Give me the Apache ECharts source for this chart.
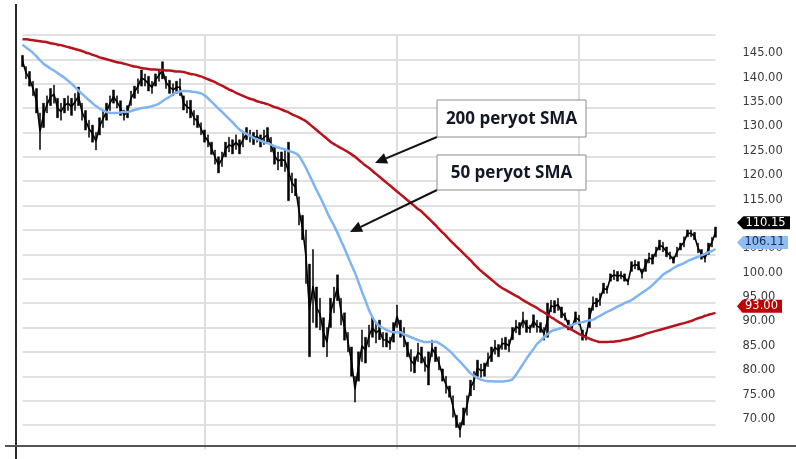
<!DOCTYPE html>
<html>
<head>
<meta charset="utf-8">
<script src="https://cdn.jsdelivr.net/npm/echarts@6/dist/echarts.min.js"></script>
<style>
html,body{margin:0;padding:0;background:#fff;}
#chart{width:796px;height:459px;}
</style>
</head>
<body>
<div id="chart"></div>
<script>
// ---- data ----
const priceHigh = [145.8,143.5,142.5,140.5,139,134,136,137.5,139,139.7,
137,136,137,137.5,137,138,139.3,136,134.5,132.5,
131.5,130,133,134.5,136,137.5,138.7,137.5,136.5,134.6,
135.5,138.5,139.5,141,142.8,142,141.5,140.5,142,143,
144.5,141.5,140.7,140,140.5,141,137.5,136.5,136.6,134.5,
133.5,132,130.5,129.5,128,126.4,125,126,128,129,
128.5,129.5,128.5,130,131,130.5,130,130.5,129.5,130.5,
131,129,127,126,126,126.4,128,121.7,120.5,116.8,
113,110,103,106,98.3,96,92,90,96,98.3,
100.8,96,93,89,86,80,85,89.5,88,90.5,
92,91,91.5,89,88.9,88,91,94.6,91.5,90,
87,85.5,84,86.8,86,84,85,87.4,86,84,
81.5,80,78,76,72,70.5,73.5,76,79.2,81,
83.3,82.5,82.7,84.8,86,87.4,86.5,87.8,88,87.5,
90,91.5,91,93.2,91.5,90.5,92.6,91.5,91,90,
95,95.6,95.5,96,94.2,93,91.5,90.5,93.2,92.5,
89.5,89,94,96.3,96,97,99.1,98.5,101,101.8,
101.5,101.5,101,100,103.5,103.8,103.5,102,104,105.3,
105,106.5,107.9,107.5,106.5,105.5,104.5,106.5,107.3,108.6,
110,110,109.5,107.3,106,105,107.3,108.5,110.6];

const priceLow = [143.5,141,139.5,137.5,134,126.5,131,134,135.5,136,
133,132.5,134,134.5,133.5,134.5,135.5,132.5,130.5,129,
128,126.4,129.5,131,132.5,134.5,136,135,133.5,132.5,
133,135.5,137,138,139.5,139.5,138.5,138,139.5,140.5,
141,139,138,137.5,138,137.5,134.6,134,133,131.5,
131,129.5,128,127,125.5,123.5,121.7,123,125,126,
125.6,126.5,125.6,127,128.5,128,127.5,128,127,127.5,
128,126,123.5,122.3,123,122,116,117.6,117,111,
108,99,84,91,90,89.5,86,84,90,93,
95.5,90.5,87.4,85,80,74.7,79,83,82.7,86,
88,86.8,87.5,86,86,85.5,87,90,88,86,
84,81,80.7,83,82.7,81,78.2,84,83,81.3,
79,76.5,75.7,71.6,69.5,67.5,70,72,76,77.2,
80,79.8,80,82,83,84.5,84,85.5,85.5,85,
87.5,88.9,88.5,90,89,88.9,90,89,89,87.4,
88,93.2,93,93.5,92,91.5,89.5,89.5,91,90.5,
87.4,87.4,90,93.5,94.2,94.5,97,97,99.5,99.8,
99.5,100,99.5,98.7,101.5,102,101.8,100.1,101.5,103.2,
103,104.5,105.9,105.5,104.5,104,103.2,104.5,105.9,106.5,
108.6,108.6,108,105.3,104,103.4,105,106.5,108.5];

const sma50 = [148.0,147.4,146.9,146.3,145.6,144.8,144.1,143.6,143.1,142.7,
142.2,141.7,141.2,140.6,140.0,139.3,138.6,137.9,137.3,136.6,
136.0,135.4,134.9,134.5,134.2,134.0,134.0,134.0,134.1,134.2,
134.2,134.4,134.6,134.8,135.0,135.1,135.2,135.4,135.6,135.9,
136.4,136.9,137.3,137.8,138.2,138.4,138.5,138.5,138.4,138.3,
138.2,138.0,137.6,137.0,136.3,135.6,134.9,134.2,133.5,132.8,
132.1,131.3,130.6,130.1,129.7,129.3,128.9,128.6,128.3,128.0,
127.8,127.5,127.2,126.9,126.7,126.5,126.2,126.0,125.7,125.2,
124.0,122.7,121.2,119.7,118.2,116.8,115.3,113.7,112.2,110.9,
109.4,107.8,106.2,104.5,102.8,101.2,99.3,97.3,95.5,93.6,
92.1,91.0,90.3,89.9,89.5,89.2,89.0,89.0,89.0,88.6,
88.3,88.0,87.7,87.4,87.2,87.0,87.0,87.1,87.1,86.8,
86.3,85.8,85.2,84.5,83.7,83.0,82.2,81.4,80.6,80.1,
79.6,79.3,79.1,79.0,79.0,78.9,78.9,78.9,79.0,79.1,
79.4,80.3,81.4,82.5,83.6,84.6,85.6,86.6,87.3,88.0,
88.6,89.2,89.5,89.7,89.9,90.1,90.3,90.5,90.8,91.0,
91.1,91.3,91.5,91.6,92.0,92.4,92.8,93.2,93.5,93.9,
94.3,94.6,95.0,95.3,95.6,96.1,96.6,97.1,97.6,98.1,
98.7,99.4,100.1,100.8,101.3,101.7,102.2,102.6,102.9,103.2,
103.6,103.9,104.2,104.5,104.8,105.1,105.4,105.7,106.1];

const sma200 = [149.1,149.1,149.0,148.9,148.8,148.7,148.6,148.5,148.3,148.2,
148.0,147.9,147.7,147.5,147.3,147.1,146.9,146.7,146.4,146.2,
145.9,145.7,145.4,145.2,145.0,144.8,144.6,144.4,144.3,144.1,
143.9,143.7,143.5,143.4,143.2,143.1,143.0,142.9,142.9,142.8,
142.8,142.7,142.7,142.6,142.5,142.5,142.4,142.2,142.0,141.9,
141.7,141.5,141.2,140.9,140.6,140.3,139.9,139.6,139.2,138.8,
138.5,138.1,137.8,137.5,137.2,136.9,136.7,136.4,136.2,136.0,
135.8,135.5,135.2,135.0,134.7,134.4,134.1,133.7,133.4,133.1,
132.7,132.3,131.7,131.1,130.5,129.9,129.3,128.7,128.1,127.6,
127.2,126.8,126.4,126.0,125.5,125.0,124.4,123.8,123.2,122.7,
122.1,121.5,120.9,120.3,119.7,119.1,118.5,117.9,117.3,116.7,
116.1,115.5,114.9,114.3,113.8,113.1,112.4,111.7,111.0,110.2,
109.5,108.8,108.0,107.3,106.6,105.9,105.2,104.5,103.8,103.0,
102.3,101.6,101.0,100.4,99.8,99.2,98.6,98.1,97.7,97.3,
96.9,96.5,96.1,95.6,95.2,94.8,94.4,94.0,93.5,93.1,
92.6,92.1,91.7,91.2,90.8,90.3,89.9,89.5,89.1,88.7,
88.3,88.0,87.7,87.4,87.2,87.0,87.0,87.0,87.1,87.1,
87.2,87.3,87.5,87.6,87.8,88.0,88.2,88.4,88.7,88.9,
89.1,89.3,89.5,89.7,89.9,90.1,90.3,90.5,90.7,90.9,
91.1,91.3,91.6,91.9,92.1,92.4,92.6,92.8,93.0];

const lastPrice = 110.15;
const lastSma50 = 106.11;
const lastSma200 = 93.00;
const verticalLineIdx = [52, 107, 159];
const annotationTexts = ['200 peryot SMA', '50 peryot SMA'];

const categories = priceHigh.map((_, i) => 'd' + i);
const ohlc = priceHigh.map((h, i) => [priceLow[i], h, priceLow[i], h]);
const priceMid = priceHigh.map((h, i) => (h + priceLow[i]) / 2);
const lastIdx = categories.length - 1;

// ---- chart ----
const chart = echarts.init(document.getElementById('chart'), null, {renderer: 'canvas'});

const gridColors = [];
for (let v = 65; v <= 150; v += 5) gridColors.push(v === 65 ? 'rgba(0,0,0,0)' : '#d7d7d7');

function tag(value, w, bg, fg) {
  return {
    coord: [lastIdx, value],
    value: value,
    symbol: 'path://M0,6L6,0H50V12H6Z',
    symbolSize: [w, 13],
    symbolOffset: [737 + w / 2 - 715.5, -6.5],
    itemStyle: {color: bg},
    label: {
      show: true, position: 'inside', offset: [2, 0],
      formatter: value.toFixed(2),
      color: fg, fontSize: 11.5, fontFamily: 'DejaVu Sans'
    }
  };
}

function arrow(from, to) {
  const dx = to[0] - from[0], dy = to[1] - from[1];
  const len = Math.sqrt(dx * dx + dy * dy);
  const ux = dx / len, uy = dy / len;
  const bx = to[0] - ux * 12, by = to[1] - uy * 12;
  const px = -uy * 5.5, py = ux * 5.5;
  return [
    {type: 'line', shape: {x1: from[0], y1: from[1], x2: bx, y2: by},
     style: {stroke: '#111', lineWidth: 2}, z: 20},
    {type: 'polygon', shape: {points: [[to[0], to[1]], [bx + px, by + py], [bx - px, by - py]]},
     style: {fill: '#111'}, z: 20}
  ];
}

function box(x, y, w, h, text) {
  return [
    {type: 'rect', shape: {x: x, y: y, width: w, height: h},
     style: {fill: '#fff', stroke: '#8c8c8c', lineWidth: 1}, z: 21},
    {type: 'text', x: x + w / 2, y: y + h / 2 + 1,
     style: {text: text, fill: '#121826', font: 'bold 17px "Open Sans"',
             align: 'center', verticalAlign: 'middle', textAlign: 'center', textVerticalAlign: 'middle'}, z: 22}
  ];
}

const graphics = [].concat(
  [{type: 'line', shape: {x1: 16, y1: 4, x2: 16, y2: 459}, style: {stroke: '#2a2a2a', lineWidth: 2}, z: 30},
   {type: 'line', shape: {x1: 5, y1: 446, x2: 796, y2: 446}, style: {stroke: '#555', lineWidth: 2}, z: 30}],
  arrow([437, 137], [375, 163]),
  arrow([437, 190], [350, 232]),
  box(437, 100, 149, 37, annotationTexts[0]),
  box(437, 155, 149, 35, annotationTexts[1])
);

chart.setOption({
  animation: false,
  backgroundColor: '#fff',
  grid: {left: 22.5, right: 80.5, top: 34.9, bottom: 9.6, containLabel: false},
  xAxis: {
    type: 'category', data: categories, boundaryGap: false,
    axisLine: {show: false}, axisTick: {show: false}, axisLabel: {show: false},
    splitLine: {show: true, interval: (i) => verticalLineIdx.includes(i),
                lineStyle: {color: '#dedede', width: 2}}
  },
  yAxis: {
    type: 'value', position: 'right', min: 65, max: 150, interval: 5,
    axisLine: {show: false}, axisTick: {show: false},
    splitLine: {show: true, lineStyle: {color: gridColors, width: 1.5}},
    axisLabel: {
      margin: 27, align: 'left', verticalAlign: 'bottom',
      color: '#3a3a3a', fontSize: 11.5, fontFamily: 'DejaVu Sans',
      formatter: (v) => (v === 65 || v === 150) ? '' : v.toFixed(2)
    }
  },
  series: [
    {
      type: 'candlestick', data: ohlc, barWidth: 1.8,
      itemStyle: {color: '#000', color0: '#000', borderColor: '#000', borderColor0: '#000', borderWidth: 0.5},
      z: 2
    },
    {
      type: 'line', data: priceMid, symbol: 'none',
      lineStyle: {color: '#000', width: 1.6}, z: 2
    },
    {
      type: 'line', data: sma50, symbol: 'none', smooth: 0.3,
      lineStyle: {color: '#7fb4f2', width: 2.5}, z: 3
    },
    {
      type: 'line', data: sma200, symbol: 'none', smooth: 0.3,
      lineStyle: {color: '#b8121a', width: 2.5}, z: 4,
      markPoint: {
        silent: true, animation: false,
        data: [
          tag(lastPrice, 53, '#000000', '#ffffff'),
          tag(lastSma50, 51, '#8fbdf3', '#1b2a4a'),
          tag(lastSma200, 45, '#c00000', '#ffffff')
        ]
      }
    }
  ],
  graphic: graphics
});
</script>
</body>
</html>
